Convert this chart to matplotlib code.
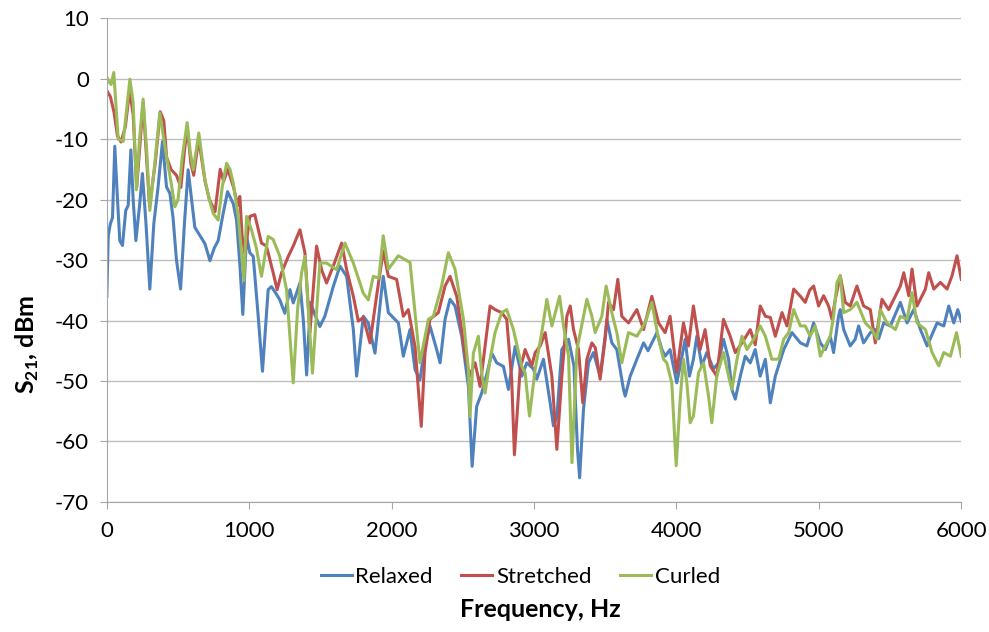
import matplotlib
matplotlib.use("Agg")
import matplotlib.pyplot as plt
from matplotlib.ticker import MultipleLocator

# (frequency Hz, S21 dBm) pairs
relaxed = [
    (0, -36), (10, -26), (25, -24), (40, -23), (56, -11.2), (75, -20), (91, -26.8), (110, -27.6),
    (133, -21.8), (150, -21), (169, -11.8), (185, -20), (204, -26.8), (230, -21), (250, -15.7),
    (275, -24), (302, -34.8), (330, -24), (360, -17.9), (391, -10.4), (419, -17.9), (443, -19),
    (465, -23), (489, -30), (518, -34.8), (545, -24), (571, -15.1), (595, -20), (618, -24.6),
    (655, -26), (689, -27.3), (724, -30.1), (755, -28), (782, -26.8), (817, -22.3), (848, -18.7),
    (888, -20.7), (911, -23.4), (935, -31), (955, -39), (981, -26), (1004, -28.8), (1028, -29.4),
    (1063, -39.3), (1093, -48.4), (1133, -34.9), (1156, -34.4), (1187, -35.5), (1215, -36.6),
    (1250, -38.8), (1286, -34.9), (1309, -37.1), (1356, -33.8), (1380, -40), (1403, -49),
    (1430, -37), (1460, -39), (1496, -41), (1531, -39.3), (1590, -34.4), (1637, -31), (1684, -32.7),
    (1731, -41.5), (1754, -49.2), (1801, -39.3), (1836, -40.4), (1883, -45.4), (1930, -34.9),
    (1941, -32.7), (1977, -38.7), (2023, -39.8), (2047, -40.4), (2082, -45.9), (2129, -41.5),
    (2164, -48.1), (2199, -49.8), (2234, -44.3), (2269, -40.9), (2316, -44.8), (2340, -47),
    (2375, -39.8), (2410, -36.5), (2445, -37.6), (2492, -42.6), (2539, -50.9), (2565, -64.1),
    (2597, -54.2), (2632, -52), (2670, -48.7), (2703, -45.4), (2738, -47), (2785, -47.6),
    (2820, -51.4), (2867, -44.3), (2914, -49.2), (2949, -47), (2996, -48), (3019, -49.7),
    (3066, -46.4), (3113, -53.6), (3136, -57.4), (3160, -56), (3195, -44.8), (3242, -43.1),
    (3280, -47.5), (3305, -61.3), (3320, -66), (3347, -54.7), (3382, -47), (3417, -45.3),
    (3464, -49.2), (3499, -42.6), (3511, -39.8), (3546, -43.7), (3581, -44.8), (3628, -51.4),
    (3640, -52.5), (3675, -49.2), (3722, -46.4), (3769, -43.7), (3800, -45), (3863, -42),
    (3898, -44.8), (3920, -45.9), (3955, -44.8), (4002, -50.3), (4026, -47.5), (4061, -43.1),
    (4091, -49.2), (4119, -46.4), (4143, -42.6), (4178, -47.5), (4213, -45.3), (4260, -48),
    (4295, -47), (4330, -43.1), (4366, -46.4), (4389, -51.4), (4413, -53), (4448, -49.2),
    (4483, -45.9), (4518, -47), (4553, -44.8), (4588, -49.2), (4624, -46.4), (4659, -53.6),
    (4694, -49.2), (4753, -44.8), (4811, -42), (4870, -43.7), (4916, -44.2), (4963, -40.4),
    (5010, -43.7), (5045, -44.8), (5080, -42.6), (5103, -45.3), (5138, -39.3), (5150, -38.2),
    (5174, -41.5), (5220, -44.2), (5255, -43.1), (5279, -40.9), (5314, -43.7), (5361, -42),
    (5396, -41.5), (5420, -43), (5455, -40.4), (5502, -40.9), (5572, -37), (5619, -40.4),
    (5666, -38.2), (5713, -41.5), (5760, -44.2), (5830, -40.4), (5877, -40.9), (5912, -37.6),
    (5947, -40.4), (5975, -38.2), (6000, -40.1),
]

stretched = [
    (0, -2), (25, -3), (50, -5.5), (75, -9.5), (100, -10.5), (130, -8), (160, -2), (185, -6),
    (210, -18), (255, -4), (300, -21), (340, -14), (375, -5.5), (400, -7), (420, -13), (450, -15),
    (489, -16), (520, -18), (545, -12), (565, -8), (590, -14), (610, -16), (645, -10), (690, -17),
    (720, -20), (760, -22), (796, -15), (820, -17), (850, -15), (890, -18), (920, -21),
    (934, -19.5), (950, -26), (970, -29), (1004, -22.8), (1039, -22.5), (1086, -27.2),
    (1121, -27.7), (1168, -32.1), (1196, -34.9), (1227, -32.1), (1274, -29.4), (1309, -27.7),
    (1356, -25), (1391, -28.8), (1426, -42), (1473, -27.7), (1508, -31.6), (1543, -33.8),
    (1590, -31), (1649, -27.2), (1684, -31.6), (1731, -36), (1766, -40.1), (1801, -39.5),
    (1848, -43.7), (1894, -36), (1941, -28.5), (1977, -32.7), (2035, -33.2), (2082, -39.3),
    (2117, -38.2), (2164, -44.3), (2208, -57.5), (2234, -45.4), (2269, -39.8), (2328, -38.7),
    (2375, -34.3), (2410, -32.7), (2457, -36), (2515, -45.4), (2546, -49.2), (2586, -47),
    (2621, -50.9), (2656, -44.3), (2691, -37.6), (2726, -38.2), (2773, -38.7), (2808, -39.8),
    (2843, -49.8), (2862, -62.2), (2902, -48.1), (2937, -44.8), (2984, -47.5), (3008, -45.3),
    (3043, -44.2), (3078, -42), (3125, -49.2), (3160, -61.3), (3195, -49.2), (3230, -39.3),
    (3254, -37.6), (3277, -41.5), (3312, -44.8), (3342, -53.6), (3371, -46.4), (3406, -43.7),
    (3430, -44.5), (3464, -49.7), (3499, -43.1), (3523, -37), (3558, -38.2), (3588, -33.2),
    (3616, -39.3), (3663, -40.4), (3722, -38.2), (3769, -41.5), (3827, -36), (3874, -40.4),
    (3920, -42), (3955, -39.3), (4002, -48.6), (4049, -40.4), (4084, -44.2), (4119, -37.6),
    (4166, -44.8), (4201, -41.5), (4237, -47.5), (4283, -49.2), (4330, -39.8), (4377, -42.6),
    (4413, -45.3), (4460, -43.7), (4518, -41.5), (4553, -44), (4588, -37.6), (4624, -39.3),
    (4659, -39.5), (4694, -42.6), (4741, -38.7), (4776, -40.9), (4823, -34.8), (4870, -36),
    (4904, -37), (4935, -35), (4963, -34.3), (4998, -37.6), (5033, -35.9), (5068, -37.6),
    (5092, -39.8), (5115, -36.5), (5150, -32.6), (5185, -37), (5220, -37.6), (5267, -34.3),
    (5314, -37.6), (5361, -38.2), (5396, -43.7), (5443, -36.5), (5490, -38.2), (5572, -34.3),
    (5596, -32.1), (5631, -35.9), (5654, -31.5), (5689, -37.6), (5748, -34.8), (5771, -32.1),
    (5807, -34.8), (5853, -33.7), (5900, -34.8), (5935, -32.6), (5970, -29.3), (6000, -33.2),
]

curled = [
    (0, 0.2), (15, -0.5), (30, -1), (49, 1), (60, -3), (80, -10), (115, -10.4), (140, -5),
    (162, -0.1), (185, -4), (208, -18.4), (230, -10), (255, -3.4), (280, -12), (302, -21.8),
    (337, -14), (372, -5.7), (400, -10), (419, -12.9), (450, -17), (478, -21.2), (500, -20),
    (530, -13), (564, -7.3), (585, -12), (607, -15.1), (646, -9), (689, -16.8), (720, -20),
    (747, -22.3), (782, -23.4), (810, -18), (841, -14), (865, -15), (888, -17.3), (923, -22.8),
    (963, -33.4), (981, -22.8), (1016, -25), (1050, -28), (1086, -32.7), (1133, -26.1),
    (1168, -26.6), (1215, -29.4), (1262, -34.9), (1309, -50.3), (1340, -38), (1368, -32.1),
    (1391, -29.4), (1444, -48.7), (1496, -30.5), (1543, -30.5), (1614, -31.6), (1672, -27.2),
    (1731, -30.5), (1801, -35.5), (1836, -36.6), (1871, -32.7), (1910, -33), (1941, -26),
    (1977, -31.5), (2047, -29.3), (2129, -30.4), (2164, -38.7), (2199, -47), (2258, -39.8),
    (2293, -39.3), (2351, -34.3), (2398, -28.8), (2445, -31.5), (2504, -39.8), (2539, -48.1),
    (2550, -55.9), (2574, -45.4), (2609, -42.6), (2632, -48.7), (2656, -52), (2691, -46.5),
    (2726, -42), (2773, -38.7), (2808, -38.2), (2855, -41.5), (2914, -47.6), (2937, -48.6),
    (2968, -55.8), (3008, -48), (3054, -42), (3090, -36.5), (3125, -40.9), (3179, -36),
    (3207, -40.9), (3242, -45.9), (3266, -63.5), (3301, -44.8), (3371, -36.5), (3406, -39.3),
    (3429, -42), (3476, -39.3), (3506, -34.3), (3546, -38.7), (3581, -42), (3616, -47),
    (3663, -42), (3722, -42.6), (3780, -40.4), (3827, -37), (3874, -43.1), (3909, -46.4),
    (3932, -47), (3967, -50.3), (3998, -64), (4026, -53), (4049, -46.4), (4073, -50.3),
    (4096, -56.9), (4119, -55.8), (4155, -48.6), (4190, -47), (4225, -52.5), (4248, -56.9),
    (4283, -49.2), (4330, -45.3), (4366, -49.2), (4389, -51.4), (4425, -46.4), (4460, -42.6),
    (4495, -44.8), (4542, -43.1), (4588, -40.9), (4624, -42.6), (4670, -46.4), (4717, -46.4),
    (4753, -43.1), (4788, -42), (4823, -38.2), (4870, -40.9), (4904, -40.9), (4939, -42.6),
    (4974, -40.9), (5010, -45.9), (5045, -44.2), (5080, -42.6), (5103, -39.3), (5127, -33.7),
    (5150, -32.6), (5174, -38.7), (5220, -38.2), (5267, -37), (5326, -40.4), (5373, -41.5),
    (5408, -43.1), (5431, -38.2), (5478, -40.4), (5537, -41.5), (5572, -39.3), (5619, -39.8),
    (5654, -35.4), (5689, -40.4), (5748, -41.5), (5795, -45.3), (5842, -47.5), (5877, -45.3),
    (5924, -45.9), (5966, -42), (6000, -45.9),
]

series_names = ["Relaxed", "Stretched", "Curled"]
series_colors = ["#4F81BD", "#C0504D", "#9BBB59"]

plt.rcParams['font.family'] = ['Lato', 'DejaVu Sans']
plt.rcParams['axes.unicode_minus'] = False
plt.rcParams['mathtext.fontset'] = 'custom'
plt.rcParams['mathtext.rm'] = 'Lato'
plt.rcParams['mathtext.bf'] = 'Lato:bold'

fig = plt.figure(figsize=(9.89, 6.32), dpi=100)
ax = fig.add_axes([0.108, 0.2057, 0.864, 0.7658])

for data, name, color in zip([relaxed, stretched, curled], series_names, series_colors):
    f = [p[0] for p in data]
    v = [p[1] for p in data]
    ax.plot(f, v, color=color, lw=2.2, label=name, solid_joinstyle='round')

ax.set_xlim(0, 6000)
ax.set_ylim(-70, 10)
ax.xaxis.set_major_locator(MultipleLocator(1000))
ax.yaxis.set_major_locator(MultipleLocator(10))
ax.grid(axis='y', color='#BEBEBE', lw=1)
ax.set_axisbelow(True)
for s in ['top', 'right']:
    ax.spines[s].set_visible(False)
for s in ['left', 'bottom']:
    ax.spines[s].set_color('#A6A6A6')
ax.tick_params(axis='both', colors='#A6A6A6', labelcolor='black', labelsize=16, length=5)
ax.tick_params(axis='x', pad=9)
ax.tick_params(axis='y', pad=8)

fig.text(0.546, 0.035, 'Frequency, Hz', ha='center', va='center', fontsize=18, fontweight='bold')
fig.text(0.028, 0.455, r'$\mathbf{S}_{\mathbf{21}}$, dBm', ha='center', va='center',
         fontsize=18, fontweight='bold', rotation=90)

fig.legend(loc='center', bbox_to_anchor=(0.526, 0.087), ncol=3, frameon=False, fontsize=16,
           handlelength=1.4, handletextpad=0.15, columnspacing=1.3)

fig.savefig('out.png', dpi=100)
